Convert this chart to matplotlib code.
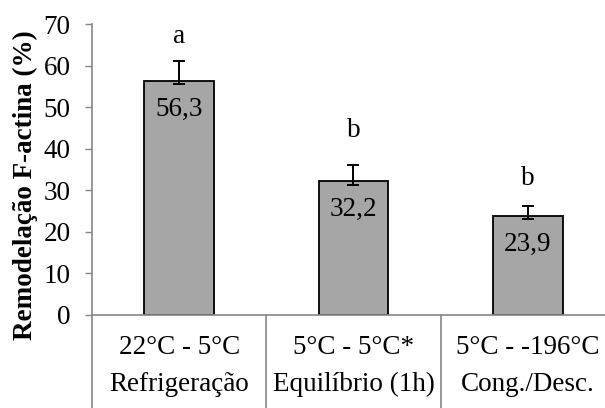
import matplotlib.pyplot as plt
from matplotlib.transforms import blended_transform_factory

plt.rcParams['font.family'] = ['Liberation Serif', 'DejaVu Serif']

# Temperature step per group, and the stage it belongs to.
steps = ['22°C - 5°C', '5°C - 5°C*', '5°C - -196°C']
stages = ['Refrigeração', 'Equilíbrio (1h)', 'Cong./Desc.']
means = [56.3, 32.2, 23.9]
errLow = [0.8, 0.9, 0.9]
errHigh = [4.8, 3.8, 2.2]
letters = ['a', 'b', 'b']
letterY = [65.4, 42.8, 31.3]

gridGrey = '#868686'
fs = 19.5

fig = plt.figure(figsize=(6.05, 4.08), dpi=100)
ax = fig.add_axes([92 / 605, 93 / 408, 523 / 605, 291 / 408])

x = list(range(len(means)))
ax.bar(x, means, width=0.4, color='#a6a6a6', edgecolor='black', linewidth=1.3,
       zorder=2)
ax.errorbar(x, means, yerr=[errLow, errHigh], fmt='none', ecolor='black',
            elinewidth=1.4, capsize=4.5, capthick=1.4, zorder=3)

for xi, m, ly, lt in zip(x, means, letterY, letters):
  ax.text(xi, m - 6.8, f'{m:.1f}'.replace('.', ','), ha='center',
          va='center', fontsize=fs)
  ax.text(xi, ly, lt, ha='center', va='baseline', fontsize=fs)

ax.set_xlim(-0.5, 2.5)
ax.set_ylim(0, 70)
ax.set_yticks(range(0, 71, 10))
ax.tick_params(axis='y', direction='out', length=5, width=1, color=gridGrey,
               labelsize=fs, pad=10.5)
ax.set_xticks([])
ax.set_ylabel('Remodelação F-actina (%)', fontsize=fs, fontweight='bold')
ax.yaxis.set_label_coords(-0.103, 0.447)

for side in ['top', 'right']:
  ax.spines[side].set_visible(False)
for side in ['left', 'bottom']:
  ax.spines[side].set_color(gridGrey)
  ax.spines[side].set_linewidth(1.2)

# Two-level category axis with group separators below the plot.
trans = blended_transform_factory(ax.transData, ax.transAxes)
for xs in [-0.5, 0.5, 1.5, 2.5]:
  ax.plot([xs, xs], [0, -0.35], transform=trans, color=gridGrey, lw=1.2,
          clip_on=False)
for xi, step, stage in zip(x, steps, stages):
  ax.text(xi, -0.11, step, transform=trans, ha='center', va='center',
          fontsize=fs)
  ax.text(xi, -0.24, stage, transform=trans, ha='center', va='center',
          fontsize=fs)

fig.savefig('out.png', dpi=100)
